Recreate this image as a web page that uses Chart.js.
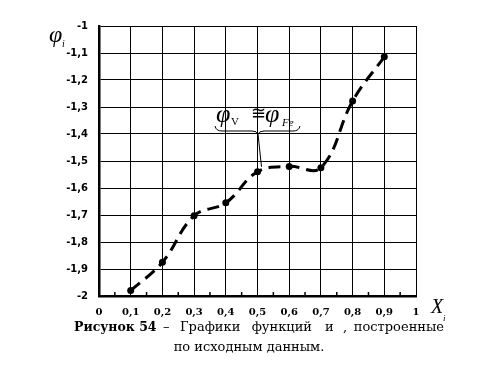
<!DOCTYPE html>
<html><head><meta charset="utf-8">
<script src="https://cdn.jsdelivr.net/npm/chart.js@4.4.0/dist/chart.umd.min.js"></script>
<style>html,body{margin:0;padding:0;background:#fff;}#wrap{width:478px;height:380px;position:relative}</style>
</head><body><div id="wrap"><canvas id="c" width="478" height="380"></canvas></div>
<script>
const xValues = [0.1, 0.2, 0.3, 0.4, 0.5, 0.6, 0.7, 0.8, 0.9];
const phiValues = [-1.98, -1.875, -1.703, -1.655, -1.54, -1.52, -1.525, -1.278, -1.114];
const xTickLabels = ['0','0,1','0,2','0,3','0,4','0,5','0,6','0,7','0,8','0,9','1'];
const yTickLabels = ['-2','-1,9','-1,8','-1,7','-1,6','-1,5','-1,4','-1,3','-1,2','-1,1','-1'];
const minorTicks = [0.05,0.15,0.25,0.35,0.45,0.55,0.65,0.75,0.85,0.95];

const SERIF = '"Liberation Serif","DejaVu Serif",serif';
const DSERIF = '"DejaVu Serif",serif';
const DSANS = '"DejaVu Sans",sans-serif';

const extras = {
  id: 'extras',
  afterDraw(chart) {
    const ctx = chart.ctx, xs = chart.scales.x, ys = chart.scales.y;
    const ca = chart.chartArea;
    ctx.save();
    ctx.fillStyle = '#000'; ctx.strokeStyle = '#000';
    // minor ticks on bottom axis
    ctx.lineWidth = 1.5;
    minorTicks.forEach(v => {
      const px = xs.getPixelForValue(v);
      ctx.beginPath(); ctx.moveTo(px, ca.bottom); ctx.lineTo(px, ca.bottom - 4); ctx.stroke();
    });
    // axis titles
    ctx.textBaseline = 'alphabetic'; ctx.textAlign = 'left';
    ctx.font = 'italic 24px ' + SERIF;
    ctx.fillText('φ', 49, 42);
    ctx.font = 'italic 10px ' + SERIF;
    ctx.fillText('i', 62, 47);
    ctx.font = 'italic 20px ' + SERIF;
    ctx.fillText('X', 431, 313);
    ctx.font = 'italic 9px ' + SERIF;
    ctx.fillText('i', 443, 321);
    // annotation
    ctx.font = 'italic 26px ' + SERIF;
    ctx.fillText('φ', 216, 122);
    ctx.font = '11px ' + SERIF;
    ctx.fillText('V', 231, 125);
    ctx.font = '18px ' + SERIF;
    ctx.fillText('≅', 251, 119);
    ctx.font = 'italic 26px ' + SERIF;
    ctx.fillText('φ', 265, 122);
    ctx.font = 'italic 11px ' + SERIF;
    ctx.fillText('Fe', 282, 126);
    // brace
    ctx.lineWidth = 1;
    ctx.beginPath();
    ctx.moveTo(215, 126);
    ctx.quadraticCurveTo(216, 131, 222, 131);
    ctx.lineTo(252, 131);
    ctx.quadraticCurveTo(257, 131, 258, 134);
    ctx.quadraticCurveTo(259, 131, 264, 131);
    ctx.lineTo(293, 131);
    ctx.quadraticCurveTo(299, 131, 300, 126);
    ctx.stroke();
    // leader line to point
    const tx = xs.getPixelForValue(xValues[4]) + 4, ty = ys.getPixelForValue(phiValues[4]) - 5;
    ctx.beginPath(); ctx.moveTo(258, 134); ctx.lineTo(tx, ty); ctx.stroke();
    // caption
    ctx.font = 'bold 12.5px ' + DSERIF;
    ctx.textAlign = 'left';
    ctx.fillText('Рисунок 54', 74, 331);
    ctx.font = '13px ' + DSERIF;
    ctx.fillText('–', 163, 331);
    ctx.fillText('Графики', 180, 331);
    ctx.textAlign = 'right';
    ctx.fillText('функций', 312, 331);
    ctx.textAlign = 'left';
    ctx.fillText('и', 325, 331);
    ctx.fillText(',', 343, 331);
    ctx.textAlign = 'right';
    ctx.fillText('построенные', 444, 331);
    ctx.textAlign = 'center';
    ctx.fillText('по исходным данным.', 249, 351);
    ctx.restore();
  }
};

new Chart(document.getElementById('c'), {
  type: 'line',
  data: {
    datasets: [{
      data: xValues.map((x, i) => ({ x: x, y: phiValues[i] })),
      borderColor: '#000',
      borderWidth: 3,
      borderDash: [12, 7],
      tension: 0.4,
      pointRadius: 3.5,
      pointBackgroundColor: '#000',
      pointBorderColor: '#000',
      pointBorderWidth: 0,
      fill: false
    }]
  },
  options: {
    responsive: false,
    animation: false,
    layout: { padding: { left: 0, top: 26, right: 62, bottom: 0 } },
    plugins: { legend: { display: false }, tooltip: { enabled: false } },
    scales: {
      x: {
        type: 'linear', min: 0, max: 1,
        ticks: { stepSize: 0.1, autoSkip: false, maxRotation: 0, color: '#000', padding: 10,
          font: { family: DSERIF, size: 10, weight: 'bold' },
          callback: (v, i) => xTickLabels[i] },
        grid: { color: '#000', lineWidth: 1, drawTicks: false },
        border: { color: '#000', width: 2.5 },
        afterFit(s) { s.height = 84; }
      },
      y: {
        min: -2, max: -1,
        ticks: { stepSize: 0.1, autoSkip: false, color: '#000', padding: 11,
          font: { family: DSANS, size: 10, weight: 'bold' },
          callback: (v, i) => yTickLabels[i] },
        grid: { color: '#000', lineWidth: 1, drawTicks: false },
        border: { color: '#000', width: 2.5 },
        afterFit(s) { s.width = 99; }
      }
    }
  },
  plugins: [extras]
});
</script></body></html>
